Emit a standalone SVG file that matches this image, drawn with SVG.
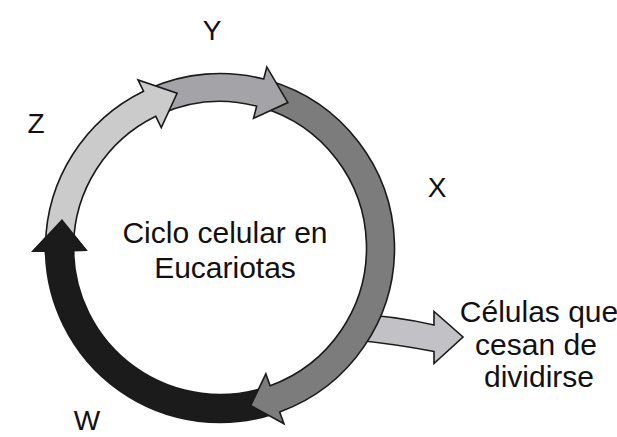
<svg xmlns="http://www.w3.org/2000/svg" width="617" height="437" viewBox="0 0 617 437">
  <style>
    .seg { stroke: #1a1a1a; stroke-width: 1.6; stroke-linejoin: miter; }
    .lbl { font-family: "Liberation Sans", Arial, sans-serif; font-size: 28px; fill: #111; text-anchor: middle; }
    .txt { font-family: "Liberation Sans", Arial, sans-serif; font-size: 30px; fill: #111; text-anchor: middle; }
  </style>
  <defs>
    <clipPath id="wHeadClip">
      <rect x="20" y="205" width="80" height="50"/>
    </clipPath>
    <path id="wPath" d="M273.92,413.96 A174.5,174.5 0 0 1 45.53,251.05 L33.03,251.26 L61.94,220.13 L86.02,250.34 L73.52,250.56 A146.5,146.5 0 0 0 265.27,387.33 Z"/>
  </defs>
  <rect width="617" height="437" fill="#ffffff"/>

  <g id="connectors">
    <path id="exit" class="seg" fill="#c2c1c6" d="M355,314 Q395,316 434,325 L434,311.5 L463,337 L434,363.5 L434,351.5 Q395,344 355,340 Z"/>
  </g>

  <g id="W">
    <use href="#wPath" class="seg" fill="#1b1b1b"/>
  </g>
  <g id="X">
    <path class="seg" fill="#7c7c7c" d="M269.56,80.69 A174.5,174.5 0 0 1 279.68,411.98 L283.96,423.72 L250.63,405.55 L265.83,373.92 L270.11,385.66 A146.5,146.5 0 0 0 261.61,107.53 Z"/>
  </g>
  <g id="Y">
    <path class="seg" fill="#a4a3a8" d="M149.02,88.59 A174.5,174.5 0 0 1 263.69,79.06 L266.82,66.96 L287.83,102.54 L253.55,118.27 L256.68,106.17 A146.5,146.5 0 0 0 160.41,114.16 Z"/>
  </g>
  <g id="Z">
    <path class="seg" fill="#cbcbcb" d="M45.53,244.95 A174.5,174.5 0 0 1 143.51,91.16 L138.02,79.93 L177.11,93.34 L161.26,127.56 L155.78,116.33 A146.5,146.5 0 0 0 73.52,245.44 Z"/>
  </g>
  <g id="W-head">
    <use href="#wPath" class="seg" fill="#1b1b1b" clip-path="url(#wHeadClip)"/>
  </g>

  <g id="labels">
    <text class="lbl" x="212" y="40">Y</text>
    <text class="lbl" x="36" y="133">Z</text>
    <text class="lbl" x="437" y="197">X</text>
    <text class="lbl" x="87" y="430">W</text>
  </g>
  <g id="center-text">
    <text class="txt" x="225" y="243">Ciclo celular en</text>
    <text class="txt" x="225" y="278">Eucariotas</text>
  </g>
  <g id="exit-text">
    <text class="txt" x="539" y="322">Células que</text>
    <text class="txt" x="536" y="355">cesan de</text>
    <text class="txt" x="539" y="387">dividirse</text>
  </g>
</svg>
